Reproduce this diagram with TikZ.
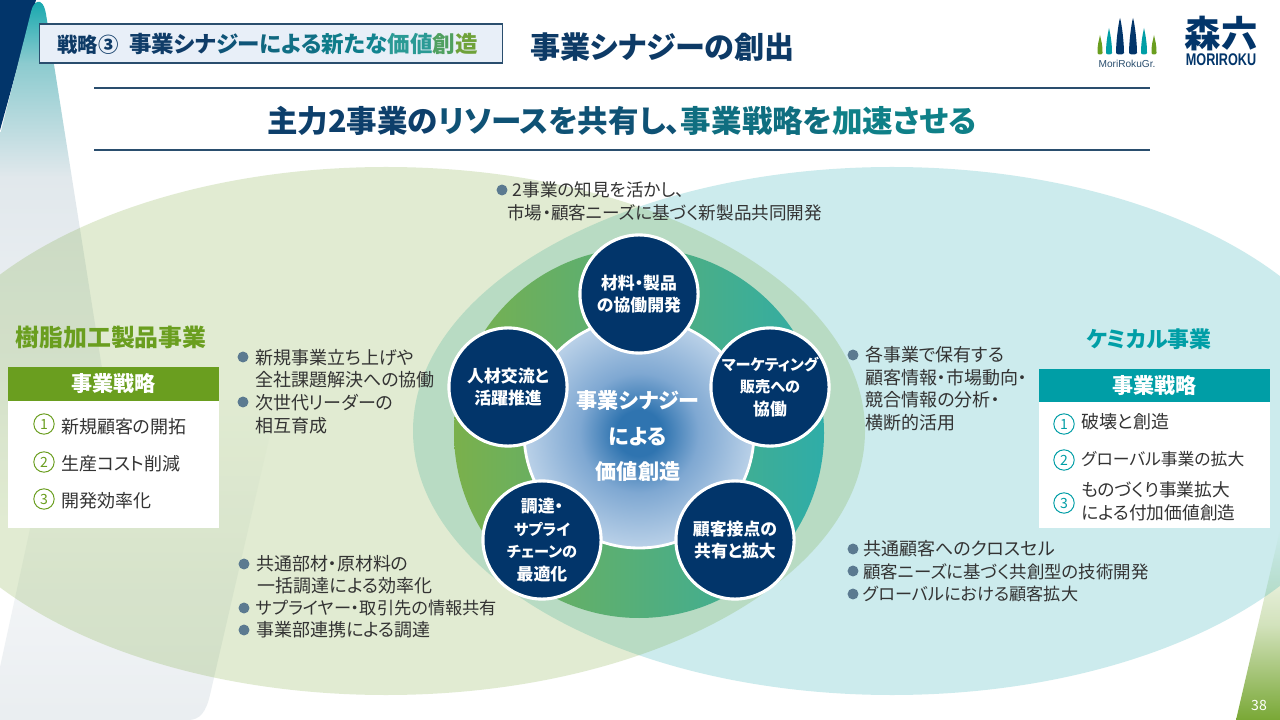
\documentclass[tikz,border=0pt]{standalone}
\usepackage{fontspec}
\usepackage{graphicx}
\usepackage{tikz}
\usetikzlibrary{fadings}
\setmainfont[RawFeature={+palt}]{Noto Sans CJK JP}
\newfontfamily\logofont{Liberation Sans}

\definecolor{navyfill}{HTML}{02356A}
\definecolor{titlenavy}{HTML}{0D3A66}
\definecolor{rulenavy}{HTML}{2A4E6E}
\definecolor{resingreen}{HTML}{6A9E1F}
\definecolor{chemteal}{HTML}{009EA6}
\definecolor{dotgray}{HTML}{5B7A90}
\definecolor{bodygray}{HTML}{333333}
\definecolor{tagfill}{HTML}{E8EFF8}
\definecolor{mistgray}{HTML}{EAEEF1}
\definecolor{ringleft}{HTML}{7AB04C}
\definecolor{ringright}{HTML}{2FADA8}
\definecolor{ribbonA}{HTML}{17A8AE}
\definecolor{ribbonB}{HTML}{8CCBCF}
\definecolor{ribbonC}{HTML}{E1E8EC}
\definecolor{ribbonD}{HTML}{EEF1F4}
\definecolor{coreA}{HTML}{2F74B0}
\definecolor{coreB}{HTML}{7FA8D2}
\definecolor{coreC}{HTML}{BAD1E8}
\pgfdeclareverticalshading{ribbonshade}{100bp}{color(0bp)=(white); color(25bp)=(white); color(40bp)=(ribbonD); color(58bp)=(ribbonC); color(69bp)=(ribbonB); color(75bp)=(ribbonA); color(100bp)=(ribbonA)}
\pgfdeclareradialshading{coreshade}{\pgfpoint{0bp}{0bp}}{color(0bp)=(coreA); color(5bp)=(coreA); color(13bp)=(coreB); color(25bp)=(coreC); color(50bp)=(coreC)}
\newcommand{\kanaline}[1]{{\fontsize{10.8}{16}\selectfont #1}}

\tikzset{
  bodytext/.style={anchor=west, align=left, inner sep=0pt, text=bodygray, font=\fontsize{12.8}{16}\selectfont},
  kanatext/.style={bodytext, font=\fontsize{#1}{16}\selectfont},
  dotmark/.style={circle, fill=dotgray, inner sep=0pt, minimum size=7.8pt},
  spoke/.style={circle, draw=white, line width=2.2pt, fill=navyfill, text=white, align=center, inner sep=0pt, minimum size=84pt, font=\fontsize{12}{16}\selectfont\bfseries},
  numbadge/.style={circle, draw=#1, text=#1, line width=0.7pt, fill=white, inner sep=0pt, minimum size=14.5pt, font=\fontsize{10}{10}\selectfont},
  headbar/.style={fill=#1, text=white, inner sep=0pt, font=\fontsize{15}{16}\selectfont\bfseries},
}

\begin{document}
\begin{tikzpicture}[x=0.025cm, y=-0.025cm]
  \clip (0,0) rectangle (1280,720);
  \fill[white] (0,0) rectangle (1280,720);

  % page decoration
  \fill[navyfill] (0,0) -- (36,0) -- (0,130) -- cycle;
  \shade[shading=ribbonshade] (0,135) -- (31,12) .. controls (33,3) and (37,1) .. (40,2) .. controls (44,4) and (45,9) .. (46,14) -- (126,520) -- (0,520) -- cycle;
  \fill[mistgray, path fading=north] (0,667) -- (58,400) -- (278,400) -- (210,695) .. controls (206,712) and (200,720) .. (188,720) -- (0,720) -- cycle;
  \shade[top color=white, bottom color=resingreen!90!white, middle color=resingreen!30!white] (1280,530) -- (1236,720) -- (1280,720) -- cycle;

  % business ellipses
  \fill[chemteal, opacity=0.2] (892,431) ellipse [x radius=479, y radius=264];
  \fill[resingreen, opacity=0.2] (386,431) ellipse [x radius=479, y radius=264];

  % synergy wheel
  \shade[left color=ringleft, right color=ringright] (639,433) circle [radius=185];
  \shade[shading=coreshade, draw=white, line width=2pt] (639,433) circle [radius=115];
  \node[text=white, align=center, inner sep=0pt, font=\fontsize{15}{25.2}\selectfont\bfseries] (core) at (638,436) {事業シナジー\\による\\価値創造};
  \node[spoke] (material) at (639,294) {材料・製品\\の協働開発};
  \node[spoke] (people) at (508,387) {人材交流と\\活躍推進};
  \node[spoke] (marketing) at (770,387) {\kanaline{マーケティング}\\\kanaline{販売への}\\協働};
  \node[spoke] (procure) at (542,540) {調達・\\\kanaline{サプライ}\\\kanaline{チェーンの}\\最適化};
  \node[spoke] (customer) at (735,540) {顧客接点の\\共有と拡大};

  % header
  \node[draw=rulenavy, line width=0.8pt, fill=tagfill, minimum width=329.5pt, minimum height=27.7pt, inner sep=0pt] (tag) at (271,43.5) {};
  \node[anchor=west, inner sep=0pt, text=titlenavy, font=\fontsize{14.5}{16}\selectfont\bfseries] (tagno) at (57,45) {戦略③};
  \node[anchor=west, inner sep=0pt, font=\fontsize{16}{18}\selectfont\bfseries] (tagtext) at (129,44) {\textcolor[HTML]{0F3C68}{事業シナ}\textcolor[HTML]{0F5578}{ジー}\textcolor[HTML]{10677F}{に}\textcolor[HTML]{106F85}{よる}\textcolor[HTML]{0F7C8A}{新た}\textcolor[HTML]{128490}{な}\textcolor[HTML]{2A9A95}{価値}\textcolor[HTML]{4FA060}{創}\textcolor[HTML]{6FA23A}{造}};
  \node[anchor=west, inner sep=0pt, text=titlenavy, font=\fontsize{21.4}{24}\selectfont\bfseries] (title) at (530,47) {事業シナジーの創出};
  \draw[rulenavy, line width=0.8pt] (94,88) -- (1150,88);
  \draw[rulenavy, line width=0.8pt] (94,150) -- (1150,150);
  \node[inner sep=0pt, font=\fontsize{21.7}{24}\selectfont\bfseries] (headline) at (622,121) {\textcolor[HTML]{0D3F6B}{主力2事業の}\textcolor[HTML]{0F5275}{リソースを共有し、}\textcolor[HTML]{0F6E80}{事業戦略を}\textcolor[HTML]{0F8088}{加速させる}};

  % logo
  \foreach \x/\tip/\w/\col in {1100/35/2.5/resingreen, 1109/28/3/chemteal, 1120/18/4/navyfill, 1133/18/4/navyfill, 1144/28/3/chemteal, 1154/35/2.5/resingreen}
    \fill[\col] (\x-\w,53) .. controls (\x-\w,43) and (\x-0.5*\w,\tip+7) .. (\x,\tip) .. controls (\x+0.5*\w,\tip+7) and (\x+\w,43) .. (\x+\w,53) .. controls (\x+\w,55) and (\x-\w,55) .. (\x-\w,53) -- cycle;
  \node[inner sep=0pt, text=rulenavy, font=\logofont\fontsize{7.2}{8}\selectfont] (grouplogo) at (1127,64) {MoriRokuGr.};
  \node[inner sep=0pt, text=navyfill, font=\fontsize{26}{28}\selectfont\bfseries] (kanjilogo) at (1221,34) {森六};
  \node[inner sep=0pt, text=navyfill, font=\logofont\fontsize{12}{13}\selectfont\bfseries] (latinlogo) at (1221,60) {\scalebox{.75}[1]{MORIROKU}};

  % left business
  \node[inner sep=0pt, text=resingreen, font=\fontsize{17}{20}\selectfont\bfseries] (resin) at (111,337) {樹脂加工製品事業};
  \fill[white] (8,401) rectangle (219,528);
  \node[headbar=resingreen, minimum width=150pt, minimum height=24.2pt] (resinhead) at (113.5,384) {事業戦略};
  \node[numbadge=resingreen] (r1) at (44,424) {1};
  \node[numbadge=resingreen] (r2) at (44,462) {2};
  \node[numbadge=resingreen] (r3) at (44,499) {3};
  \node[bodytext] (r1t) at (61,427) {新規顧客の開拓};
  \node[bodytext] (r2t) at (61,464) {生産コスト削減};
  \node[bodytext] (r3t) at (61,501) {開発効率化};

  % right business
  \node[inner sep=0pt, text=chemteal, font=\fontsize{15.6}{20}\selectfont\bfseries] (chem) at (1149,339) {ケミカル事業};
  \fill[white] (1039,402) rectangle (1270,528);
  \node[headbar=chemteal, minimum width=164.3pt, minimum height=23.5pt] (chemhead) at (1154.5,385.5) {事業戦略};
  \node[numbadge=chemteal] (c1) at (1064,424) {1};
  \node[numbadge=chemteal] (c2) at (1064,460) {2};
  \node[numbadge=chemteal] (c3) at (1064,503) {3};
  \node[bodytext] (c1t) at (1081,422) {破壊と創造};
  \node[kanatext=11.95] (c2t) at (1081,459) {グローバル事業の拡大};
  \node[kanatext=12.6] (c3t) at (1081,501.5) {ものづくり事業拡大\\による付加価値創造};

  % bullet notes
  \node[dotmark] (d1) at (502,190) {};
  \node[kanatext=12.5] (n1) at (507,201.5) {\hspace*{4pt}2事業の知見を活かし、\\市場・顧客ニーズに基づく新製品共同開発};
  \node[dotmark] (d2) at (243,357) {};
  \node[dotmark] (d3) at (243,402) {};
  \node[bodytext] (n2) at (255,368.5) {新規事業立ち上げや\\全社課題解決への協働};
  \node[bodytext] (n3) at (255,414) {次世代リーダーの\\相互育成};
  \node[dotmark] (d4) at (244,564) {};
  \node[dotmark] (d5) at (244,608) {};
  \node[dotmark] (d6) at (244,630) {};
  \node[bodytext] (n4) at (256,574.5) {共通部材・原材料の\\\hspace*{1pt}一括調達による効率化};
  \node[kanatext=12.25] (n5) at (256,608) {サプライヤー・取引先の情報共有};
  \node[bodytext] (n6) at (256,630) {事業部連携による調達};
  \node[dotmark] (d7) at (853,355) {};
  \node[bodytext] (n7) at (865,388.5) {各事業で保有する\\顧客情報・市場動向・\\競合情報の分析・\\横断的活用};
  \node[dotmark] (d8) at (853,549) {};
  \node[dotmark] (d9) at (853,571) {};
  \node[dotmark] (d10) at (853,594) {};
  \node[bodytext] (n8) at (863,549) {共通顧客へのクロスセル};
  \node[kanatext=12.4] (n9) at (863,571.5) {顧客ニーズに基づく共創型の技術開発};
  \node[kanatext=12.2] (n10) at (863,594) {グローバルにおける顧客拡大};

  \node[inner sep=0pt, text=white, font=\fontsize{10}{12}\selectfont] (pageno) at (1259,705) {38};
\end{tikzpicture}
\end{document}
